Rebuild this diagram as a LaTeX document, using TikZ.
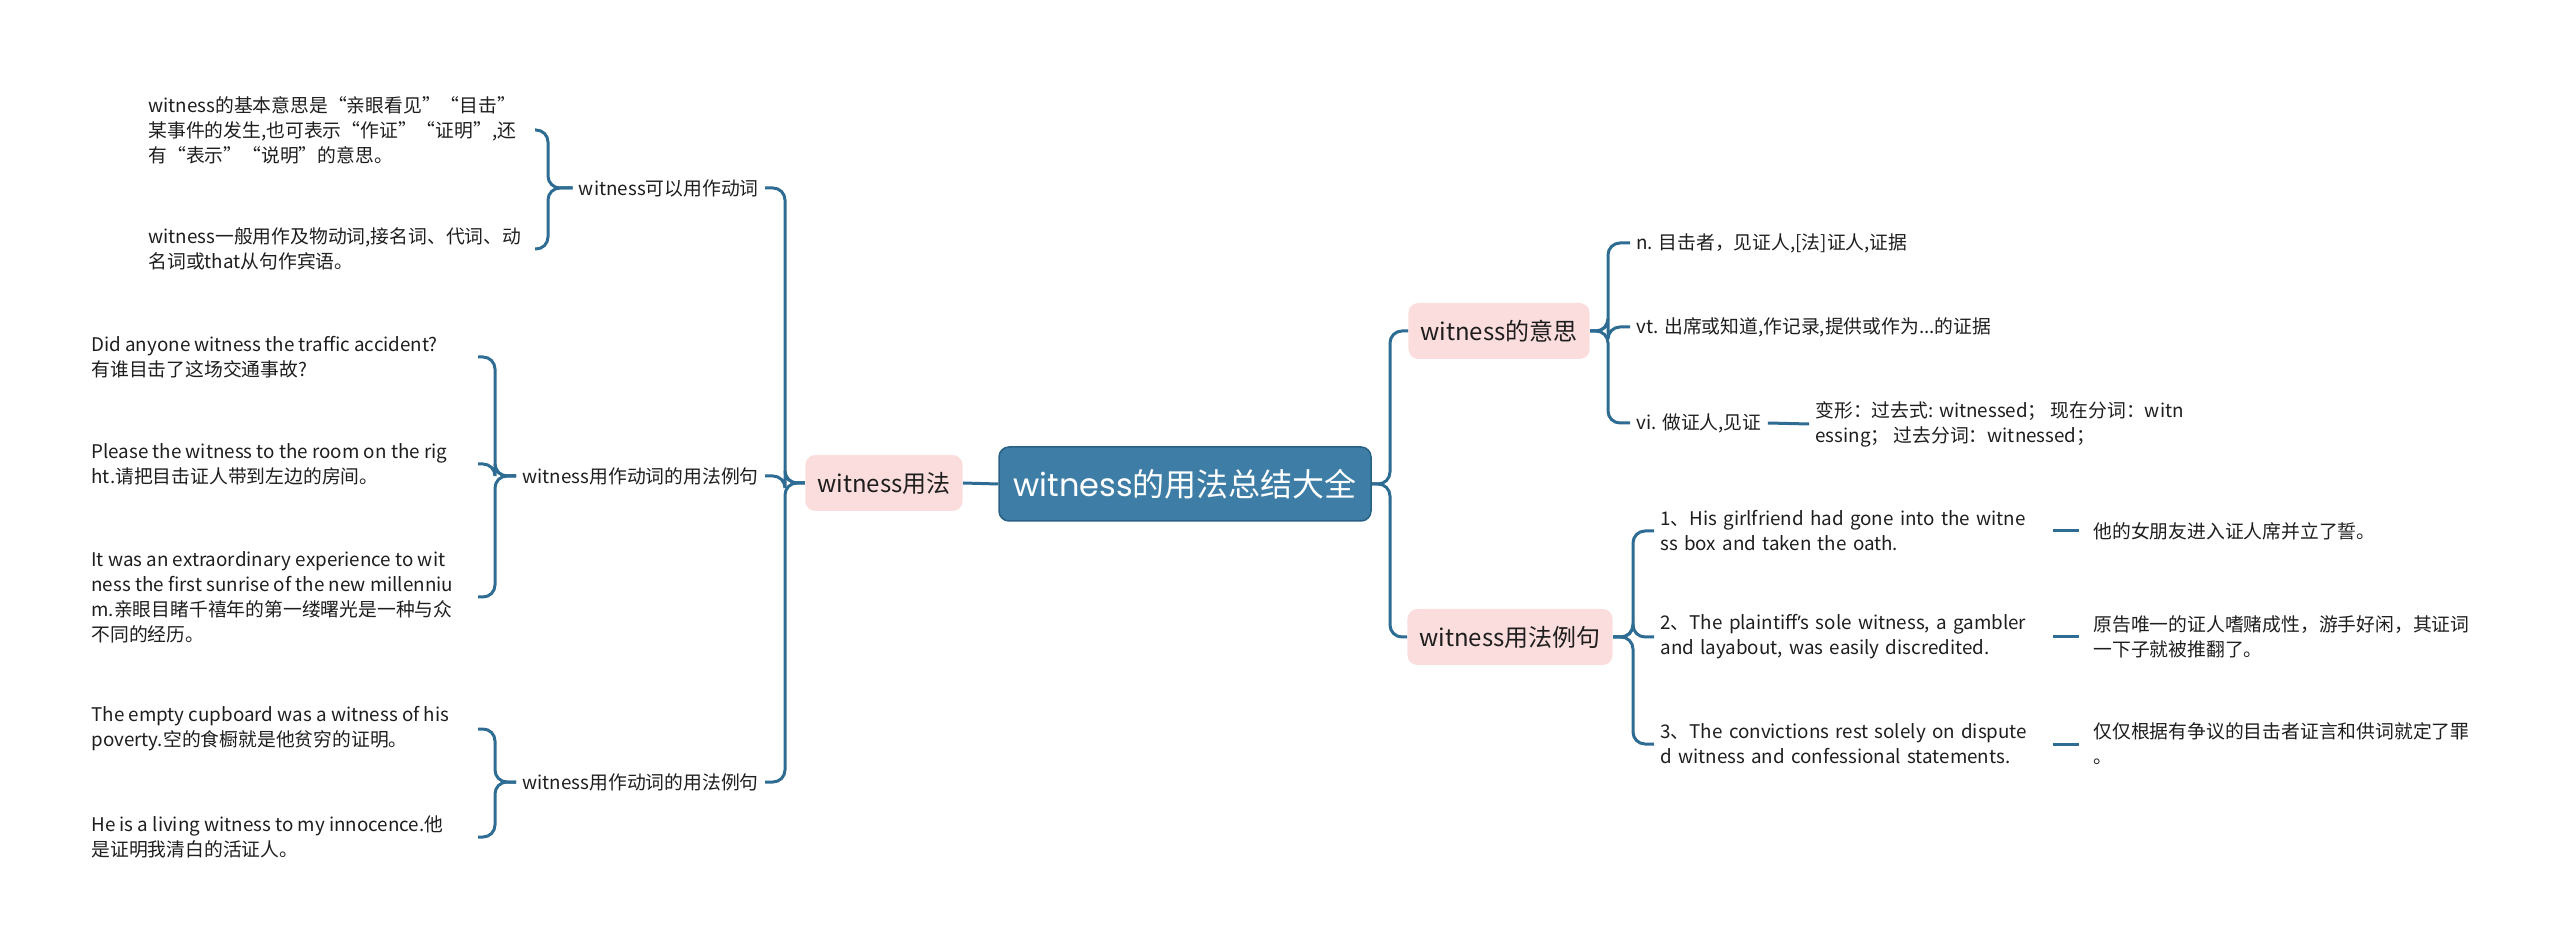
\documentclass[tikz,border=0pt]{standalone}
\usepackage{fontspec}
\setmainfont{Noto Sans CJK SC}
\newfontfamily\rootlat{Poppins}
\newfontfamily\latfont{Noto Sans}
\definecolor{lineblue}{RGB}{46,108,147}
\definecolor{rootfill}{RGB}{62,126,166}
\definecolor{rootborder}{RGB}{40,96,132}
\definecolor{pinkfill}{RGB}{251,221,221}
\definecolor{textc}{RGB}{30,30,30}
\tikzset{
  conn/.style={draw=lineblue, line width=1.5pt, rounded corners=6pt},
  leaf/.style={anchor=west, align=left, text=textc, inner xsep=3pt, inner ysep=2pt,
    font=\fontsize{9.4}{12.5}\selectfont},
  midlab/.style={anchor=east, text=textc, inner xsep=3pt, inner ysep=2pt,
    font=\fontsize{9.4}{12.5}\selectfont},
  subbox/.style={rectangle, rounded corners=5pt, fill=pinkfill, text=textc,
    inner xsep=6pt, minimum height=28pt, font=\fontsize{12}{14}\selectfont},
  rootbox/.style={rectangle, rounded corners=5pt, fill=rootfill, draw=rootborder,
    line width=0.75pt, text=white, minimum width=186pt, minimum height=37pt,
    font=\fontsize{16}{18}\selectfont}
}
\begin{document}
\begin{tikzpicture}[x=0.5pt,y=-0.5pt]
\useasboundingbox (0,0) rectangle (2560,951);

% root and first level
\node[rootbox] (root) at (1185,484) {{\rootlat witness}的用法总结大全};
\node[subbox, anchor=east] (use) at (963,483) {witness用法};
\node[subbox, anchor=west] (mean) at (1408,331) {witness的意思};
\node[subbox, anchor=west] (ex) at (1407,637) {witness用法例句};

% left labels
\node[midlab] (labA) at (765,188) {witness可以用作动词};
\node[midlab] (labB) at (765,476) {witness用作动词的用法例句};
\node[midlab] (labC) at (765,782) {witness用作动词的用法例句};

% left leaves
\node[leaf] (a1) at (142,130) {witness的基本意思是“亲眼看见”“目击”\\某事件的发生,也可表示“作证”“证明”,还\\有“表示”“说明”的意思。};
\node[leaf] (a2) at (142,249) {witness一般用作及物动词,接名词、代词、动\\名词或that从句作宾语。};
\node[leaf] (b1) at (85,357) {Did anyone witness the traffic accident?\\有谁目击了这场交通事故?};
\node[leaf] (b2) at (85,464) {Please the witness to the room on the rig\\ht.请把目击证人带到左边的房间。};
\node[leaf] (b3) at (85,597) {It was an extraordinary experience to wit\\ness the first sunrise of the new millenniu\\m.亲眼目睹千禧年的第一缕曙光是一种与众\\不同的经历。};
\node[leaf] (c1) at (85,729) {The empty cupboard was a witness of his\\poverty.空的食橱就是他贫穷的证明。};
\node[leaf] (c2) at (85,837) {He is a living witness to my innocence.他\\是证明我清白的活证人。};

% right leaves
\node[leaf] (m1) at (1630,243) {n. 目击者，见证人,[法]证人,证据};
\node[leaf] (m2) at (1630,327) {vt. 出席或知道,作记录,提供或作为...的证据};
\node[leaf] (m3) at (1630,423) {vi. 做证人,见证};
\node[leaf] (m3a) at (1809,424) {变形：过去式: witnessed； 现在分词：witn\\essing； 过去分词：witnessed；};

\node[leaf, text width=193pt] (e1) at (1654,531) {1、His girlfriend had gone into the witne\\ss box and taken the oath.};
\node[leaf, text width=193pt] (e2) at (1654,637) {2、The plaintiff{\latfont ’}s sole witness, a gambler\\and layabout, was easily discredited.};
\node[leaf, text width=193pt] (e3) at (1654,744) {3、The convictions rest solely on dispute\\d witness and confessional statements.};
\node[leaf, inner xsep=7pt] (g1) at (2079,531) {他的女朋友进入证人席并立了誓。};
\node[leaf, inner xsep=7pt] (g2) at (2079,637) {原告唯一的证人嗜赌成性，游手好闲，其证词\\一下子就被推翻了。};
\node[leaf, inner xsep=7pt] (g3) at (2079,744) {仅仅根据有争议的目击者证言和供词就定了罪\\。};

% trunk coordinates
\coordinate (tl) at (785,483);
\coordinate (tr) at (1390,484);
\coordinate (bA) at (548,188);
\coordinate (sA) at (535,188);
\coordinate (bB) at (495,476);
\coordinate (sB) at (478,476);
\coordinate (bC) at (495,782);
\coordinate (sC) at (478,782);
\coordinate (bM) at (1608,331);
\coordinate (bE) at (1633,637);

% connectors
\draw[conn] (root.west) -- (use.east);
\draw[conn] (use.west) -- (tl) |- (labA.east);
\draw[conn] (use.west) -- (tl) |- (labB.east);
\draw[conn] (use.west) -- (tl) |- (labC.east);
\draw[conn] (root.east) -- (tr) |- (mean.west);
\draw[conn] (root.east) -- (tr) |- (ex.west);

\draw[conn] (labA.west) -- (bA) |- (a1 -| sA);
\draw[conn] (labA.west) -- (bA) |- (a2 -| sA);
\draw[conn] (labB.west) -- (bB) |- (b1 -| sB);
\draw[conn] (labB.west) -- (bB) |- (b2 -| sB);
\draw[conn] (labB.west) -- (bB) |- (b3 -| sB);
\draw[conn] (labC.west) -- (bC) |- (c1 -| sC);
\draw[conn] (labC.west) -- (bC) |- (c2 -| sC);

\draw[conn] (mean.east) -- (bM) |- (m1.west);
\draw[conn] (mean.east) -- (bM) |- (m2.west);
\draw[conn] (mean.east) -- (bM) |- (m3.west);
\draw[conn] (m3.east) -- (m3a.west);

\draw[conn] (ex.east) -- (bE) |- (e1.west);
\draw[conn] (ex.east) -- (bE) |- (e2.west);
\draw[conn] (ex.east) -- (bE) |- (e3.west);
\draw[conn] (e1.east) -- (g1.west);
\draw[conn] (e2.east) -- (g2.west);
\draw[conn] (e3.east) -- (g3.west);
\end{tikzpicture}
\end{document}
